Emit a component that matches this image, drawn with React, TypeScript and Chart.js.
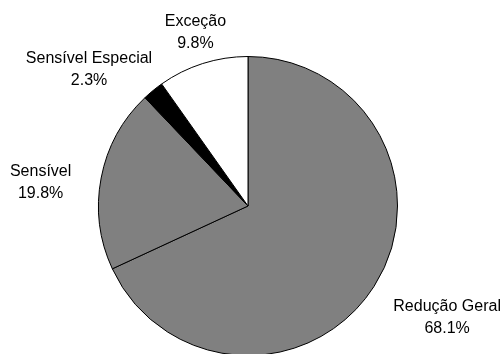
import React, { useEffect, useRef } from "react";
import { Chart, registerables } from "chart.js";

Chart.register(...registerables);

const categories = ["Redução Geral", "Sensível", "Sensível Especial", "Exceção"];
const shares = [68.1, 19.8, 2.3, 9.8];
const sliceColors = ["#808080", "#808080", "#000000", "#ffffff"];
// small label nudges (px) relative to the computed outside position
const labelNudgeX = [0, 2, -3, 12];
const labelNudgeY = [0, 14, 20, 20];

const FONT = "16px 'Liberation Sans', Arial, sans-serif";
const LINE_GAP = 22;

const labelPlugin = {
  id: "outsideLabels",
  afterDatasetsDraw(chart: any) {
    const ctx = chart.ctx as CanvasRenderingContext2D;
    const meta = chart.getDatasetMeta(0);
    ctx.save();
    ctx.font = FONT;
    ctx.fillStyle = "#000";
    ctx.textAlign = "center";
    ctx.textBaseline = "alphabetic";
    meta.data.forEach((arc: any, i: number) => {
      const p = arc.getProps(["x", "y", "startAngle", "endAngle", "outerRadius"], true);
      const mid = (p.startAngle + p.endAngle) / 2;
      const dx = Math.cos(mid);
      const dy = Math.sin(mid);
      const line1 = categories[i];
      const line2 = shares[i].toFixed(1) + "%";
      const w = Math.max(ctx.measureText(line1).width, ctx.measureText(line2).width);
      const h = 44;
      const r = p.outerRadius + 33;
      const cx = p.x + dx * r + (dx * w) / 2 + labelNudgeX[i];
      const cy = p.y + dy * r + (dy * h) / 2 + labelNudgeY[i];
      const cap = 11.5;
      ctx.fillText(line1, cx, cy - LINE_GAP / 2 + cap / 2);
      ctx.fillText(line2, cx, cy + LINE_GAP / 2 + cap / 2);
    });
    ctx.restore();
  },
};

export default function App() {
  const ref = useRef<HTMLCanvasElement | null>(null);
  useEffect(() => {
    if (!ref.current) return;
    const chart = new Chart(ref.current, {
      type: "pie",
      data: {
        labels: categories,
        datasets: [
          {
            data: shares,
            backgroundColor: sliceColors,
            borderColor: "#000000",
            borderWidth: 1,
          },
        ],
      },
      options: {
        responsive: false,
        animation: false,
        devicePixelRatio: 1,
        layout: { padding: { left: 98, right: 102, top: 56, bottom: 6 } },
        plugins: {
          legend: { display: false },
          tooltip: { enabled: false },
        },
      },
      plugins: [labelPlugin],
    });
    return () => chart.destroy();
  }, []);
  return (
    <div
      style={{
        position: "fixed",
        left: 0,
        top: 0,
        width: 500,
        height: 354,
        overflow: "hidden",
        background: "#ffffff",
      }}
    >
      <canvas ref={ref} width={500} height={362} style={{ display: "block", width: 500, height: 362 }} />
    </div>
  );
}
